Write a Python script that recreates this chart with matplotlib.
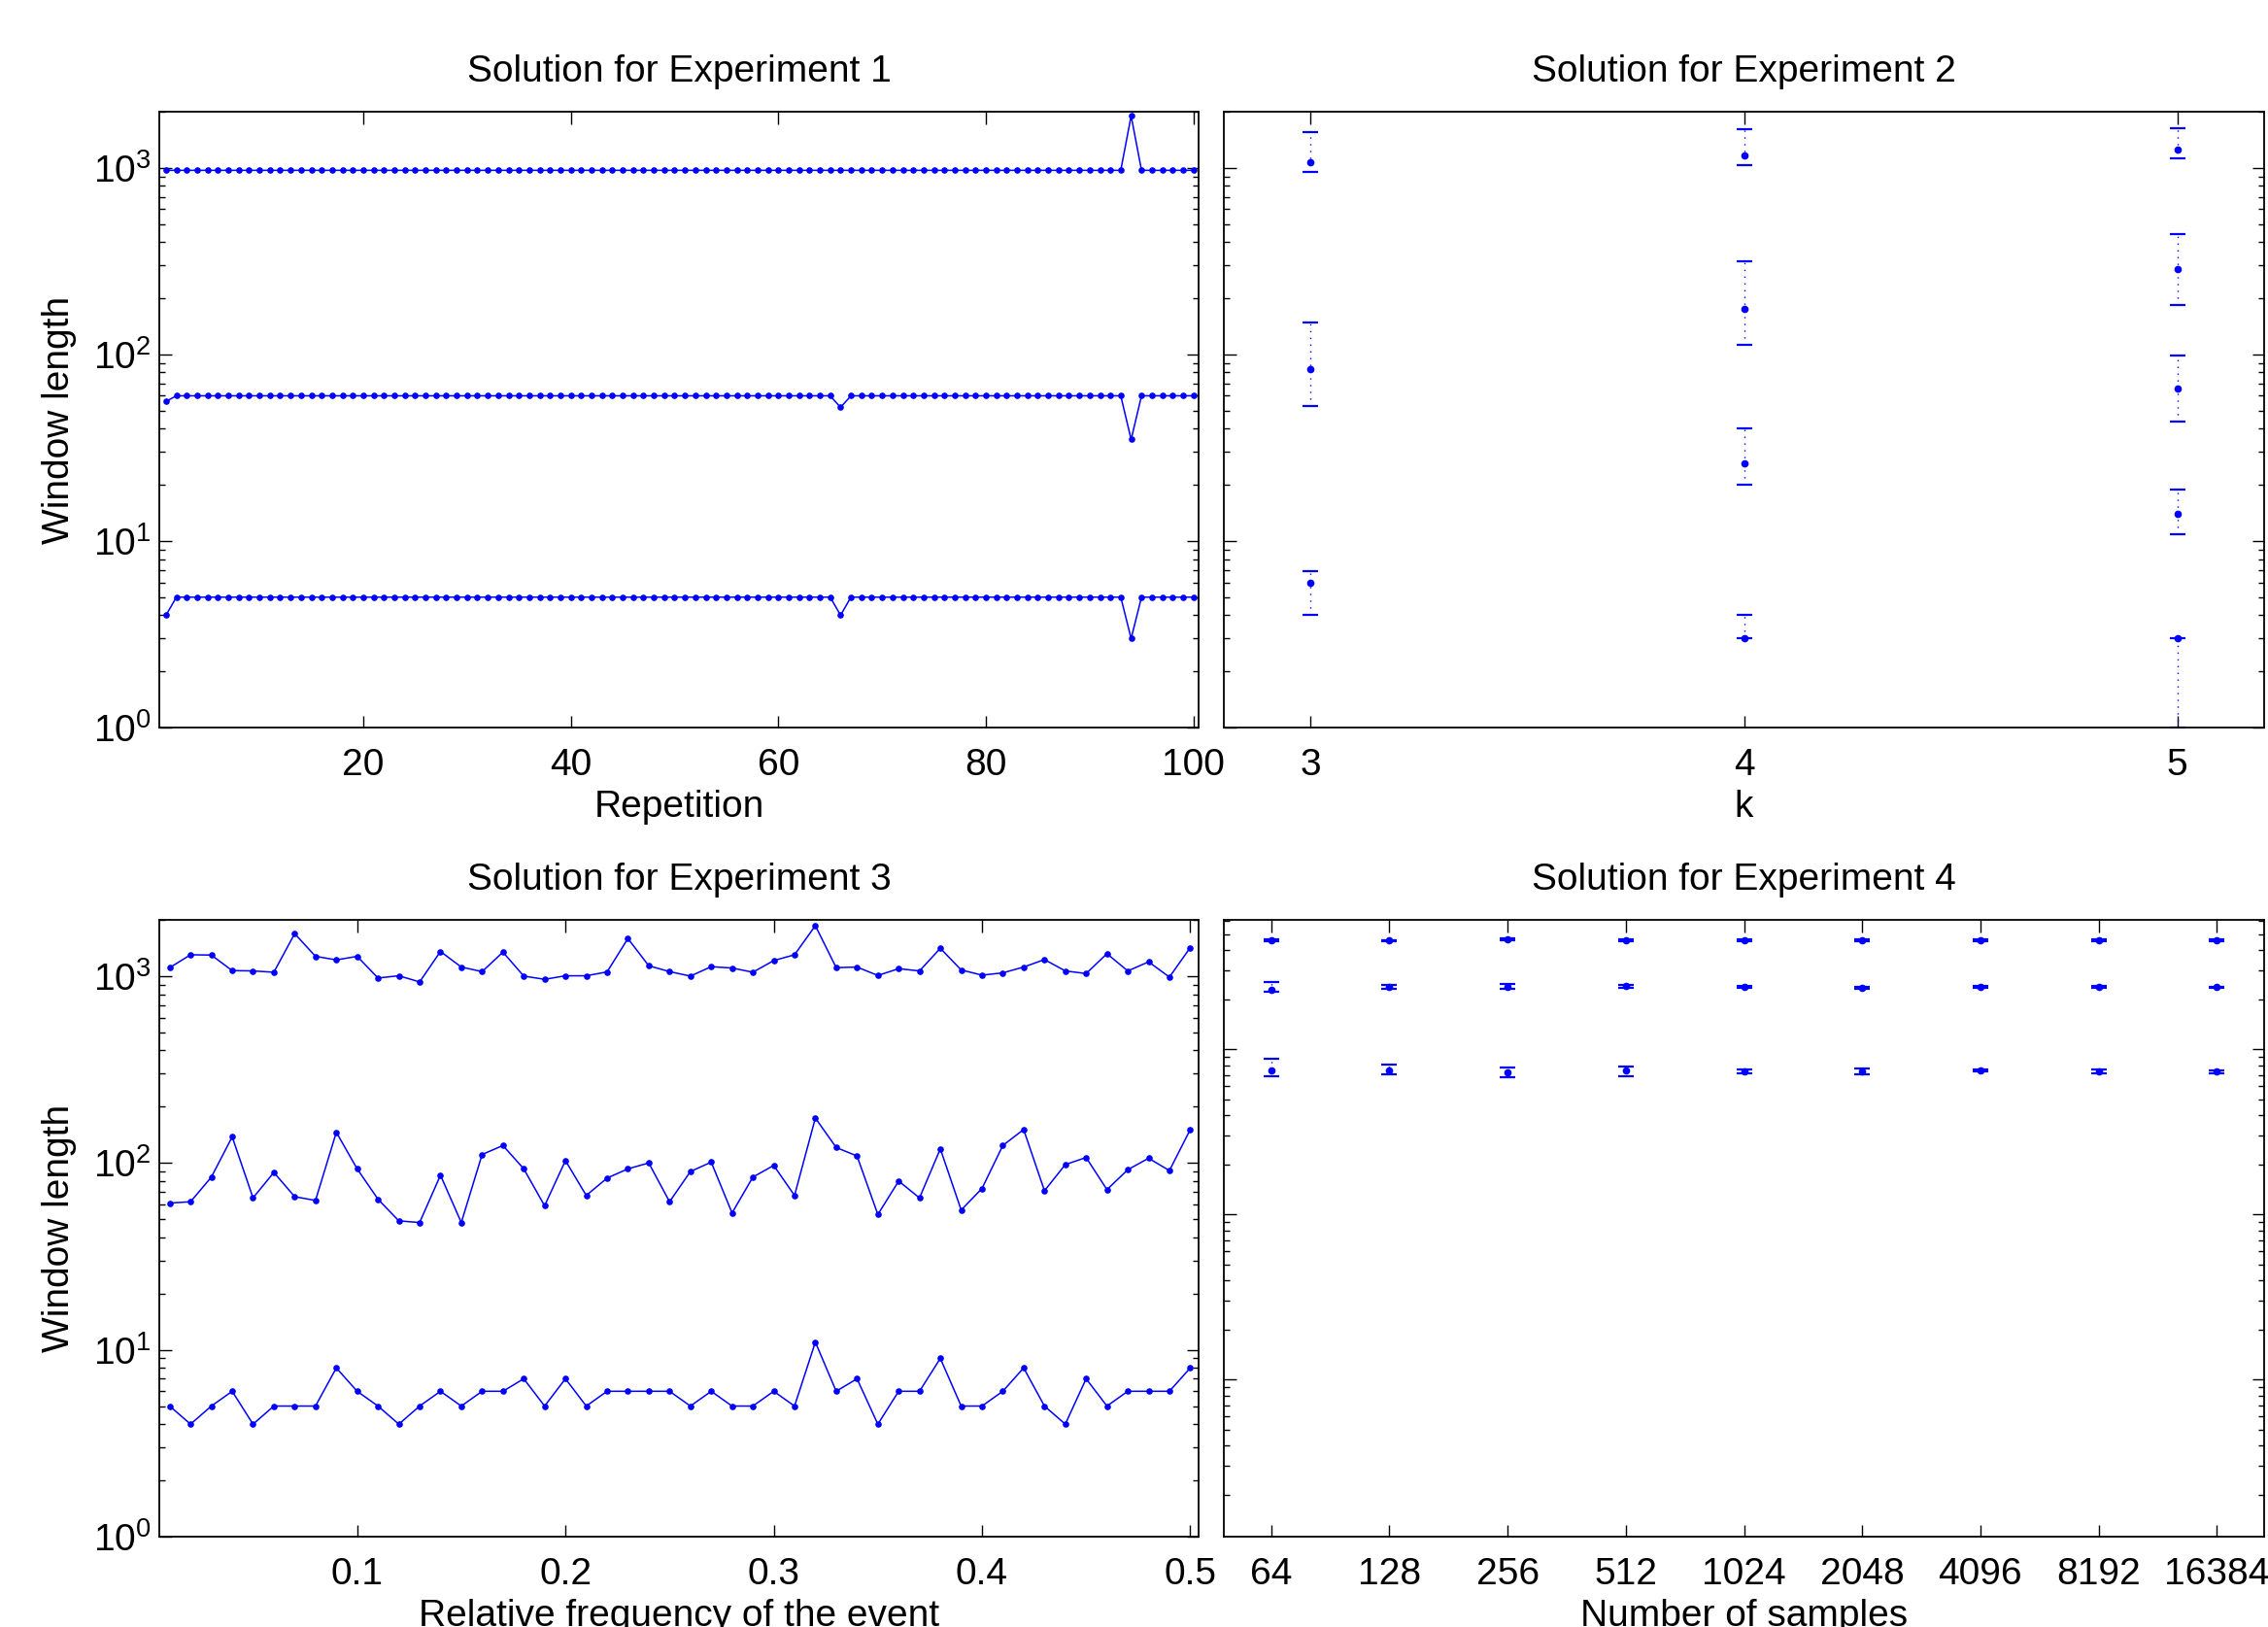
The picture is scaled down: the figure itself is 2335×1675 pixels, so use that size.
import matplotlib
matplotlib.use("Agg")
import matplotlib.pyplot as plt
import numpy as np
from matplotlib.ticker import NullLocator, FixedLocator

plt.rcParams["font.family"] = ["Liberation Sans", "DejaVu Sans"]
plt.rcParams["font.size"] = 28
plt.rcParams["axes.titlesize"] = 28
plt.rcParams["mathtext.default"] = "regular"

BLUE = "#0000ff"

# Experiment 1: window length per repetition (three solutions)
exp1_rep = np.arange(1, 101)
exp1_top = [970] * 93 + [1900] + [970] * 6
exp1_mid = [56] + [60] * 64 + [52] + [60] * 27 + [35] + [60] * 6
exp1_low = [4] + [5] * 64 + [4] + [5] * 27 + [3] + [5] * 6

# Experiment 2: solutions vs k (mean, lower, upper)
exp2_k = [3, 3, 3, 4, 4, 4, 4, 5, 5, 5, 5, 5]
exp2_mean = [1078, 83, 5.95, 1170, 175, 26, 3, 1254, 286, 65.5, 13.9, 3]
exp2_lo = [951, 53, 4, 1030, 112, 20, 3, 1128, 185, 43.7, 10.9, 1]
exp2_hi = [1557, 148, 6.9, 1614, 317, 40, 4, 1622, 443, 99, 18.9, 3]

# Experiment 3: window length vs relative frequency of the event
exp3_freq = np.round(np.arange(1, 51) / 100, 2)
exp3_top = [1110, 1301, 1296, 1070, 1066, 1049, 1687, 1276, 1221, 1276,
            977, 1004, 931, 1355, 1118, 1057, 1344, 1000, 961, 1004,
            1004, 1053, 1589, 1136, 1057, 1000, 1123, 1105, 1049, 1211,
            1301, 1862, 1110, 1118, 1008, 1096, 1066, 1409, 1079, 1012,
            1041, 1118, 1226, 1066, 1032, 1318, 1066, 1192, 988, 1421]
exp3_mid = [61, 62, 84, 138, 65, 89, 66, 63, 146, 93,
            64, 49, 48, 86, 48, 111, 124, 93, 59, 103,
            67, 83, 93, 100, 62, 90, 101, 54, 84, 97,
            67, 174, 121, 109, 53, 80, 65, 119, 56, 73,
            124, 151, 71, 98, 107, 72, 92, 106, 91, 151]
exp3_low = [5, 4, 5, 6, 4, 5, 5, 5, 8, 6,
            5, 4, 5, 6, 5, 6, 6, 7, 5, 7,
            5, 6, 6, 6, 6, 5, 6, 5, 5, 6,
            5, 11, 6, 7, 4, 6, 6, 9, 5, 5,
            6, 8, 5, 4, 7, 5, 6, 6, 6, 8]

# Experiment 4: solutions vs number of samples (mean, lower, upper)
exp4_n = [64, 128, 256, 512, 1024, 2048, 4096, 8192, 16384]
exp4_top = [4605, 4560, 4625, 4605, 4605, 4605, 4605, 4605, 4605]
exp4_top_lo = [4545, 4500, 4565, 4550, 4550, 4550, 4550, 4550, 4550]
exp4_top_hi = [4665, 4620, 4685, 4660, 4660, 4660, 4660, 4660, 4660]
exp4_mid = [2306, 2404, 2404, 2415, 2393, 2371, 2393, 2404, 2382]
exp4_mid_lo = [2253, 2339, 2317, 2362, 2361, 2339, 2370, 2375, 2360]
exp4_mid_hi = [2546, 2472, 2495, 2472, 2425, 2404, 2416, 2433, 2404]
exp4_low = [752, 752, 729, 743, 740, 740, 750, 736, 733]
exp4_low_lo = [693, 706, 681, 693, 720, 710, 740, 713, 716]
exp4_low_hi = [878, 805, 780, 787, 760, 770, 760, 760, 750]

W, H = 2335, 1675
fig = plt.figure(figsize=(W / 100, H / 100), dpi=100)


def frame(px_left, px_top, px_right, px_bottom):
    return [px_left / W, 1 - px_bottom / H, (px_right - px_left) / W, (px_bottom - px_top) / H]


ax1 = fig.add_axes(frame(164, 115, 1234, 749))
ax2 = fig.add_axes(frame(1260, 115, 2331, 749))
ax3 = fig.add_axes(frame(164, 947, 1234, 1582))
ax4 = fig.add_axes(frame(1260, 947, 2331, 1582))

line_kw = dict(color=BLUE, linewidth=1.1, marker=".", markersize=7.5)


def errbars(ax, x, mean, lo, hi):
    mean = np.asarray(mean, dtype=float)
    yerr = [mean - np.asarray(lo, dtype=float), np.asarray(hi, dtype=float) - mean]
    eb = ax.errorbar(x, mean, yerr=yerr, fmt=".", color=BLUE, markersize=9,
                     elinewidth=1.0, capsize=6, capthick=1.6)
    eb[2][0].set_linestyle((0, (1, 4)))


# Experiment 1
for ys in (exp1_top, exp1_mid, exp1_low):
    ax1.plot(exp1_rep, ys, **line_kw)
ax1.set_xlim(0.35, 100.5)
ax1.set_xticks([20, 40, 60, 80, 100])
ax1.set_xlabel("Repetition", labelpad=5)
ax1.set_ylabel("Window length", labelpad=12)
ax1.set_title("Solution for Experiment 1", pad=22)

# Experiment 2
errbars(ax2, exp2_k, exp2_mean, exp2_lo, exp2_hi)
ax2.set_xlim(2.8, 5.2)
ax2.set_xticks([3, 4, 5])
ax2.set_xlabel("k", labelpad=5)
ax2.set_title("Solution for Experiment 2", pad=22)

# Experiment 3
for ys in (exp3_top, exp3_mid, exp3_low):
    ax3.plot(exp3_freq, ys, **line_kw)
ax3.set_xlim(0.005, 0.504)
ax3.set_xticks([0.1, 0.2, 0.3, 0.4, 0.5])
ax3.set_xticklabels(["0.1", "0.2", "0.3", "0.4", "0.5"])
ax3.set_xlabel("Relative frequency of the event", labelpad=5)
ax3.set_ylabel("Window length", labelpad=12)
ax3.set_title("Solution for Experiment 3", pad=22)

# Experiment 4
errbars(ax4, exp4_n, exp4_top, exp4_top_lo, exp4_top_hi)
errbars(ax4, exp4_n, exp4_mid, exp4_mid_lo, exp4_mid_hi)
errbars(ax4, exp4_n, exp4_low, exp4_low_lo, exp4_low_hi)
ax4.set_xscale("log", base=2)
ax4.set_xlim(2 ** 5.6, 2 ** 14.4)
ax4.xaxis.set_major_locator(FixedLocator(exp4_n))
ax4.set_xticklabels([str(n) for n in exp4_n])
ax4.xaxis.set_minor_locator(NullLocator())
ax4.set_xlabel("Number of samples", labelpad=5)
ax4.set_title("Solution for Experiment 4", pad=22)

for ax in (ax1, ax2, ax3):
    ax.set_yscale("log")
    ax.set_ylim(1, 2000)
ax4.set_yscale("log")
ax4.set_ylim(1.12, 6100)

for ax in (ax1, ax2, ax3, ax4):
    ax.tick_params(which="both", direction="in", top=True, right=True,
                   width=1.0, colors="black")
    ax.tick_params(which="major", length=9, pad=15)
    ax.tick_params(which="minor", length=4.5)
    ax.tick_params(axis="y", which="major", pad=6)
    for sp in ax.spines.values():
        sp.set_linewidth(1.3)

for ax in (ax2, ax4):
    ax.tick_params(labelleft=False)

fig.savefig("out.png", dpi=100)
